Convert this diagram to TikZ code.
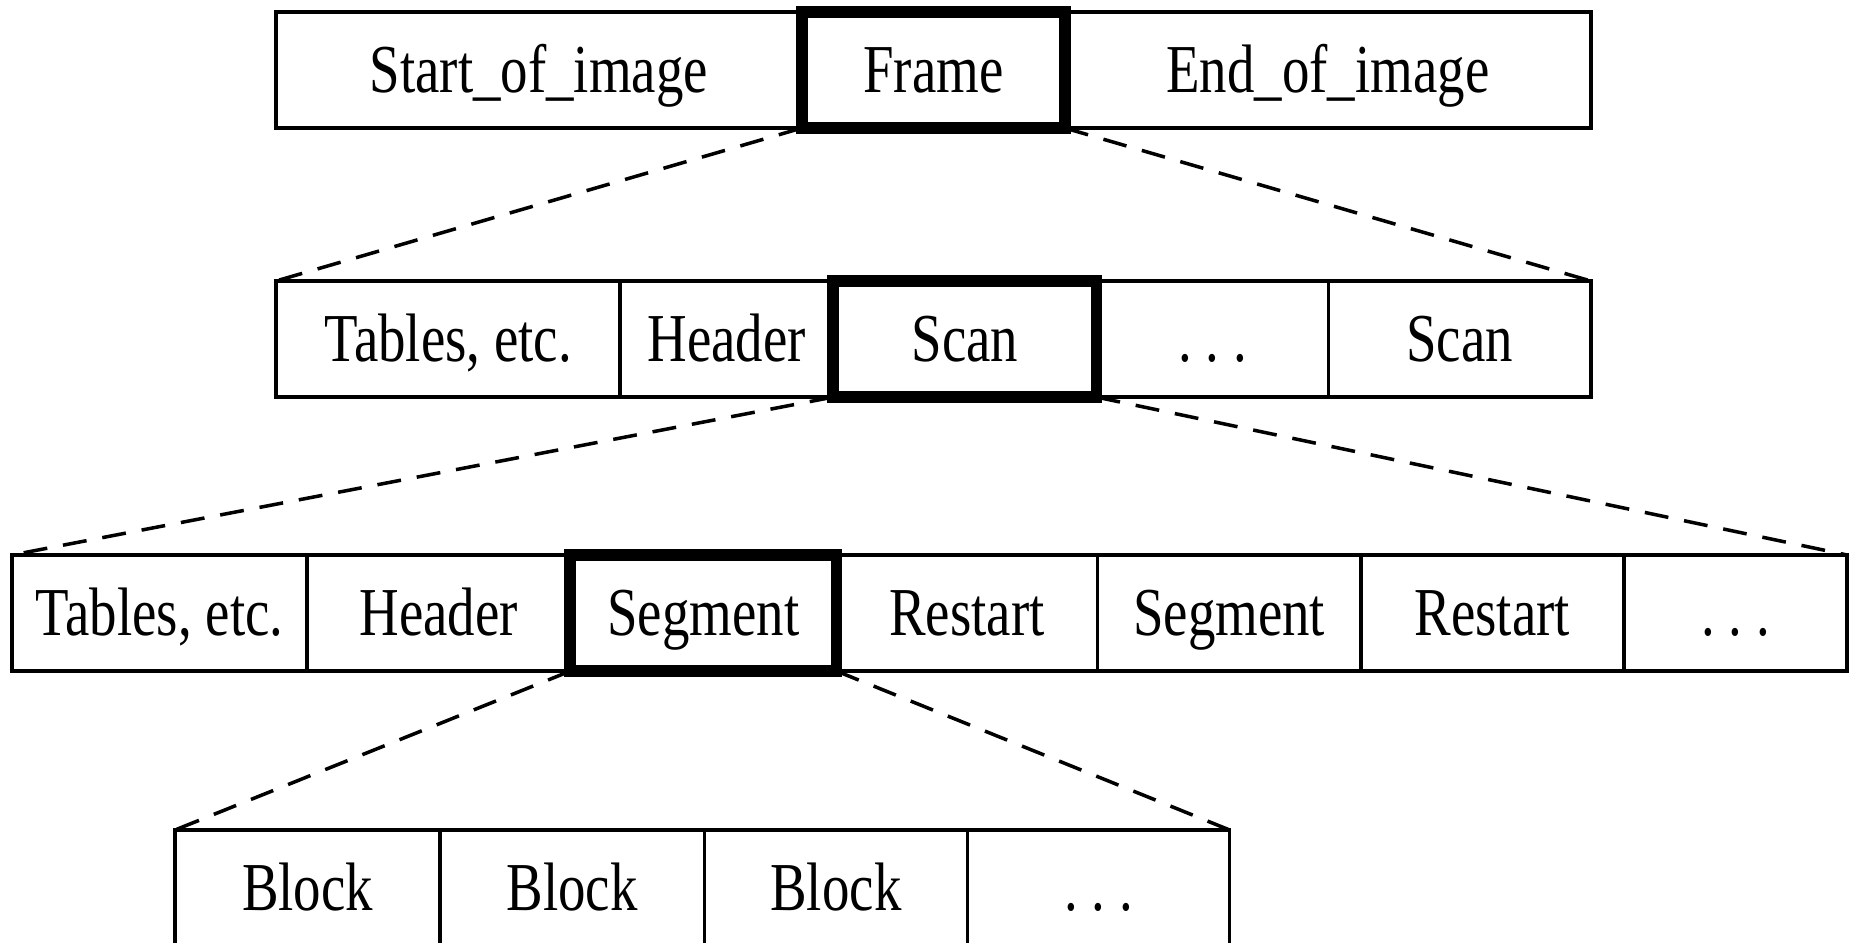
\documentclass[tikz,border=0pt]{standalone}
\usepackage{fontspec}
\newfontfamily\cellfont{Liberation Serif}[FakeStretch=0.8]
\usetikzlibrary{positioning}
\tikzset{
cell/.style={
	draw, line width=1pt, outer sep=0pt, inner xsep=1pt,
	minimum height=1.16cm, text height=0.45cm, text depth=0pt,
	font=\cellfont\fontsize{19.5}{22}\selectfont},
focus/.style={line width=3.4pt},
zoomline/.style={line width=1pt, dash pattern=on 0.24cm off 0.16cm}
}
\newcommand{\spdots}{.\ .\ .}

\begin{document}
\begin{tikzpicture}[x=0.01cm, y=-0.01cm]
	\clip (0,0) rectangle (1849,943);
	% image level
	\node[cell, anchor=north west, minimum width=5.255cm] (soi) at (276,12) {Start\_of\_image};
	\node[cell, focus, right=0pt of soi, minimum width=2.63cm] (frame) {Frame};
	\node[cell, right=0pt of frame, minimum width=5.255cm] (eoi) {End\_of\_image};
	% frame level
	\node[cell, anchor=north west, minimum width=3.44cm] (ftab) at (276,281) {Tables, etc.};
	\node[cell, right=0pt of ftab, minimum width=2.13cm] (fhdr) {Header};
	\node[cell, focus, right=0pt of fhdr, minimum width=2.63cm] (scan) {Scan};
	\node[cell, right=0pt of scan, minimum width=2.32cm] (fdots) {\spdots};
	\node[cell, right=0pt of fdots, minimum width=2.62cm] (scanb) {Scan};
	% scan level
	\node[cell, anchor=north west, minimum width=2.95cm] (stab) at (12,555) {Tables, etc.};
	\node[cell, right=0pt of stab, minimum width=2.63cm] (shdr) {Header};
	\node[cell, focus, right=0pt of shdr, minimum width=2.66cm] (seg) {Segment};
	\node[cell, right=0pt of seg, minimum width=2.61cm] (rsta) {Restart};
	\node[cell, right=0pt of rsta, minimum width=2.63cm] (segb) {Segment};
	\node[cell, right=0pt of segb, minimum width=2.63cm] (rstb) {Restart};
	\node[cell, right=0pt of rstb, minimum width=2.23cm] (sdots) {\spdots};
	% segment level
	\node[cell, anchor=north west, minimum width=2.65cm] (blka) at (175,830) {Block};
	\node[cell, right=0pt of blka, minimum width=2.64cm] (blkb) {Block};
	\node[cell, right=0pt of blkb, minimum width=2.63cm] (blkc) {Block};
	\node[cell, right=0pt of blkc, minimum width=2.62cm] (bdots) {\spdots};
	% zoom lines
	\draw[zoomline] (frame.south west) -- (ftab.north west);
	\draw[zoomline] (frame.south east) -- (scanb.north east);
	\draw[zoomline] (scan.south west) -- (stab.north west);
	\draw[zoomline] (scan.south east) -- (sdots.north east);
	\draw[zoomline] (seg.south west) -- (blka.north west);
	\draw[zoomline] (seg.south east) -- (bdots.north east);
\end{tikzpicture}
\end{document}
